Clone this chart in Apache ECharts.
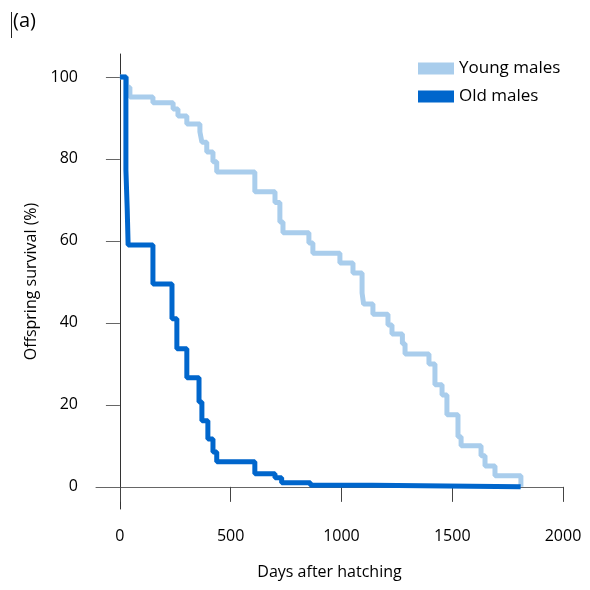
<!DOCTYPE html>
<html>
<head>
<meta charset="utf-8">
<script src="https://cdn.jsdelivr.net/npm/echarts@6/dist/echarts.min.js"></script>
<style>
html,body{margin:0;padding:0;background:#fff;}
#chart{width:590px;height:590px;}
</style>
</head>
<body>
<div id="chart"></div>
<script>
// survival curves: days after hatching vs % surviving
var youngDays = [0, 30, 45, 149, 240, 262, 302, 361, 370, 392, 420, 437, 609, 700, 722, 736, 853, 871, 993, 1052, 1093, 1100, 1142, 1210, 1228, 1275, 1287, 1395, 1422, 1454, 1476, 1526, 1540, 1630, 1648, 1693, 1810];
var youngSurv = [100, 97.5, 95.1, 93.7, 92.2, 90.5, 88.5, 86.6, 84.1, 81.7, 79.3, 76.8, 72, 69.4, 64.6, 62, 59.5, 57, 54.6, 52.2, 47.3, 44.6, 42.1, 39.5, 37.3, 34.9, 32.4, 30, 24.9, 22.4, 17.6, 12.2, 10, 7.6, 5.1, 2.7, 0];

var oldDays = [0, 27, 33, 37, 149, 235, 257, 302, 357, 370, 397, 420, 437, 609, 700, 730, 860, 1140, 1809];
var oldSurv = [100, 77.3, 67.6, 59, 49.5, 41, 33.7, 26.6, 20.7, 16.1, 11.7, 8.5, 6.1, 3.2, 2.2, 1, 0.4, 0, 0];

var xTicks = [0, 500, 1000, 1500, 2000];
var yTicks = [0, 20, 40, 60, 80, 100];

function pairs(xs, ys) {
    var out = [];
    for (var i = 0; i < xs.length; i++) out.push([xs[i], ys[i]]);
    return out;
}
function plain(v) { return String(v); }

var font = 'Open Sans';
var myChart = echarts.init(document.getElementById('chart'));
myChart.setOption({
    animation: false,
    backgroundColor: '#fff',
    textStyle: { fontFamily: font },
    grid: { left: 96, right: 27, top: 54, bottom: 81 },
    graphic: [
        { type: 'line', shape: { x1: 11.5, y1: 12, x2: 11.5, y2: 38 }, style: { stroke: '#222', lineWidth: 1 } },
        { type: 'text', left: 13, top: 11, style: { text: '(a)', font: '20px "' + font + '"', fill: '#000' } }
    ],
    legend: {
        orient: 'vertical',
        left: 413,
        top: 55,
        itemWidth: 36,
        itemHeight: 12,
        itemGap: 11,
        textStyle: { fontSize: 17, color: '#000', fontFamily: font },
        data: [
            { name: 'Young males', icon: 'rect' },
            { name: 'Old males', icon: 'rect' }
        ]
    },
    xAxis: {
        type: 'value',
        min: -108,
        max: 2000,
        name: 'Days after hatching',
        nameLocation: 'middle',
        nameGap: 55,
        nameTextStyle: { fontSize: 16, color: '#000' },
        axisLine: { show: true, lineStyle: { color: '#666', width: 1 } },
        axisTick: { show: true, length: 15, customValues: xTicks, lineStyle: { color: '#444' } },
        axisLabel: { customValues: xTicks, formatter: plain, margin: 19, fontSize: 16, color: '#000' },
        splitLine: { show: false }
    },
    yAxis: {
        type: 'value',
        min: -5.4,
        max: 105.6,
        name: 'Offspring survival (%)',
        nameLocation: 'middle',
        nameGap: 57,
        nameTextStyle: { fontSize: 16, color: '#000' },
        axisLine: { show: true, lineStyle: { color: '#333', width: 1 } },
        axisTick: { show: true, length: 14, customValues: yTicks, lineStyle: { color: '#666' } },
        axisLabel: { customValues: yTicks, formatter: plain, margin: 18, fontSize: 16, color: '#000' },
        splitLine: { show: false }
    },
    series: [
        {
            name: 'Young males',
            type: 'line',
            step: 'end',
            symbol: 'none',
            data: pairs(youngDays, youngSurv),
            itemStyle: { color: '#A9CDEC' },
            lineStyle: { color: '#A9CDEC', width: 5 }
        },
        {
            name: 'Old males',
            type: 'line',
            step: 'end',
            symbol: 'none',
            data: pairs(oldDays, oldSurv),
            itemStyle: { color: '#0066CC' },
            lineStyle: { color: '#0066CC', width: 5 }
        }
    ]
});
</script>
</body>
</html>
